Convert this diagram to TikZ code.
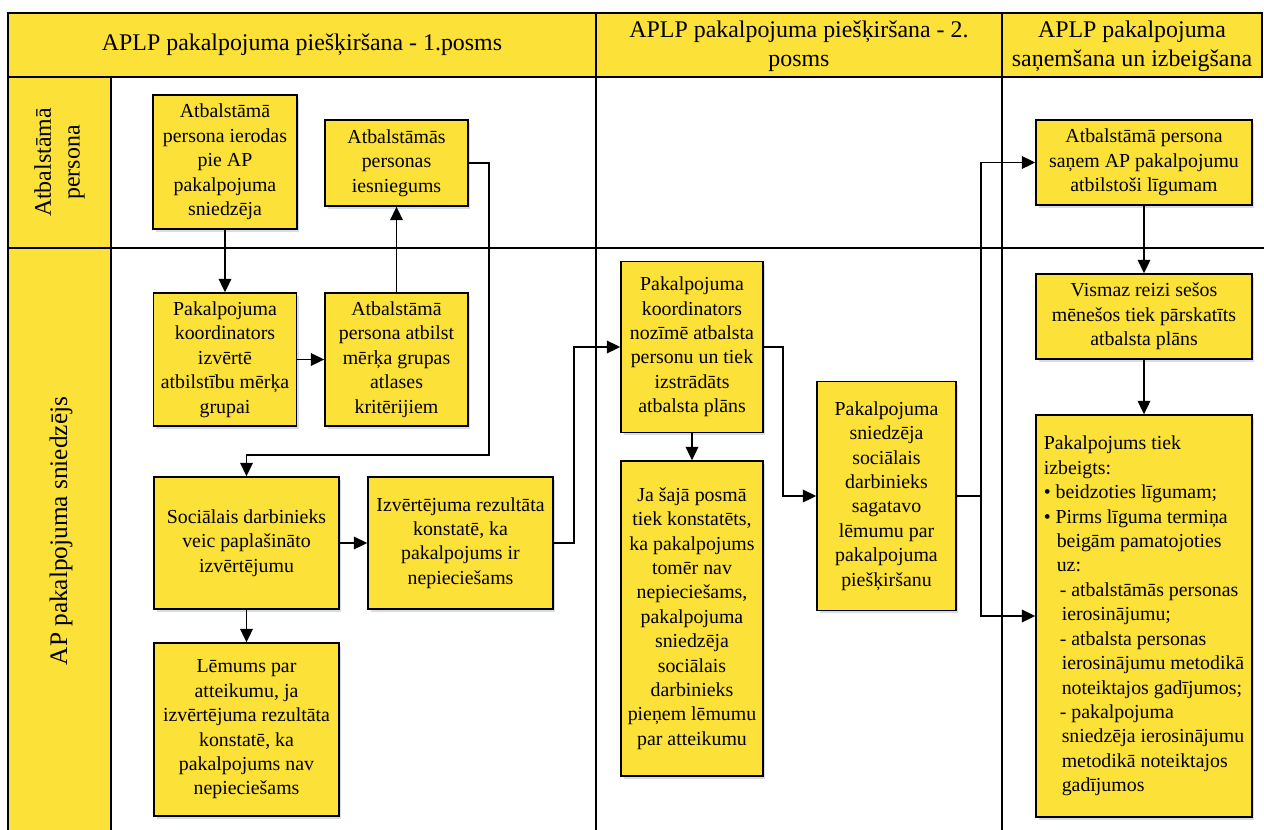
\documentclass[tikz,border=0pt]{standalone}
\usepackage{fontspec}
\setmainfont{Liberation Serif}
\usetikzlibrary{arrows.meta,shadows}
\definecolor{lpyellow}{RGB}{252,225,56}
\definecolor{lpshade}{RGB}{196,206,222}

\begin{document}
\begin{tikzpicture}[x=0.02cm, y=-0.02cm,
    every node/.style={font=\fontsize{11.3}{13.9}\selectfont},
    box/.style={draw, line width=0.8pt, fill=lpyellow, align=center, inner sep=1pt,
        drop shadow={shadow xshift=0.05cm, shadow yshift=-0.06cm, fill=lpshade, opacity=0.7}},
    head/.style={font=\fontsize{13.6}{16.4}\selectfont, align=center},
    link/.style={line width=1.1pt, -{Triangle[length=0.27cm, width=0.25cm]}}]
    \useasboundingbox (0,0) rectangle (1264,829);
    \clip (0,0) rectangle (1264,829);
    % frame of the lanes
    \draw[fill=lpyellow, line width=0.8pt] (8,13) rectangle (596,77);
    \draw[fill=lpyellow, line width=0.8pt] (596,13) rectangle (1002,77);
    \draw[fill=lpyellow, line width=0.8pt] (1002,13) rectangle (1262,77);
    \draw[fill=lpyellow, line width=0.8pt] (8,77) rectangle (111,248);
    \draw[fill=lpyellow, line width=0.8pt] (8,248) rectangle (111,860);
    \draw[line width=0.8pt] (111,248) -- (1264,248);
    \draw[line width=0.8pt] (596,77) -- (596,860);
    \draw[line width=0.8pt] (1002,77) -- (1002,860);
    \node[head] (colone) at (302,45) {APLP pakalpojuma piešķiršana - 1.posms};
    \node[head] (coltwo) at (799,46) {APLP pakalpojuma piešķiršana - 2.\\posms};
    \node[head] (colthree) at (1132,46) {APLP pakalpojuma\\saņemšana un izbeigšana};
    \node[head, rotate=90] (laneperson) at (59.5,162.5) {Atbalstāmā\\persona};
    \node[head, rotate=90, font=\fontsize{14.4}{17}\selectfont] (laneprovider) at (61,531) {AP pakalpojuma sniedzējs};
    % 1. posms
    \node[box, minimum width=2.88cm, minimum height=2.68cm] (ierodas) at (225,162)
        {Atbalstāmā\\persona ierodas\\pie AP\\pakalpojuma\\sniedzēja};
    \node[box, minimum width=2.86cm, minimum height=1.72cm] (iesniegums) at (396.5,163)
        {Atbalstāmās\\personas\\iesniegums};
    \node[box, minimum width=2.86cm, minimum height=2.66cm] (koordA) at (225,359.5)
        {Pakalpojuma\\koordinators\\izvērtē\\atbilstību mērķa\\grupai};
    \node[box, minimum width=2.86cm, minimum height=2.66cm] (atbilst) at (396.5,359.5)
        {Atbalstāmā\\persona atbilst\\mērķa grupas\\atlases\\kritērijiem};
    \node[box, minimum width=3.70cm, minimum height=2.64cm] (izvertejums) at (246.5,543)
        {Sociālais darbinieks\\veic paplašināto\\izvērtējumu};
    \node[box, minimum width=3.70cm, minimum height=2.64cm] (rezultats) at (460.5,543)
        {Izvērtējuma rezultāta\\konstatē, ka\\pakalpojums ir\\nepieciešams};
    \node[box, minimum width=3.70cm, minimum height=3.46cm] (atteikums) at (246.5,729.5)
        {Lēmums par\\atteikumu, ja\\izvērtējuma rezultāta\\konstatē, ka\\pakalpojums nav\\nepieciešams};
    % 2. posms
    \node[box, minimum width=2.84cm, minimum height=3.42cm] (koordB) at (692,347)
        {Pakalpojuma\\koordinators\\nozīmē atbalsta\\personu un tiek\\izstrādāts\\atbalsta plāns};
    \node[box, minimum width=2.84cm, minimum height=6.30cm] (nepieciesams) at (692,618.5)
        {Ja šajā posmā\\tiek konstatēts,\\ka pakalpojums\\tomēr nav\\nepieciešams,\\pakalpojuma\\sniedzēja\\sociālais\\darbinieks\\pieņem lēmumu\\par atteikumu};
    \node[box, minimum width=2.78cm, minimum height=4.58cm] (lemums) at (886.5,496)
        {Pakalpojuma\\sniedzēja\\sociālais\\darbinieks\\sagatavo\\lēmumu par\\pakalpojuma\\piešķiršanu};
    % sanemsana un izbeigsana
    \node[box, minimum width=4.32cm, minimum height=1.70cm] (sanem) at (1144,162.5)
        {Atbalstāmā persona\\saņem AP pakalpojumu\\atbilstoši līgumam};
    \node[box, minimum width=4.32cm, minimum height=1.70cm] (parskata) at (1144,316.5)
        {Vismaz reizi sešos\\mēnešos tiek pārskatīts\\atbalsta plāns};
    \node[box, align=left, minimum width=4.32cm, minimum height=8.04cm] (izbeigts) at (1144,616)
        {Pakalpojums tiek\\izbeigts:\\• beidzoties līgumam;\\• Pirms līguma termiņa\\
        \hspace*{0.26cm}beigām pamatojoties\\\hspace*{0.26cm}uz:\\
        \hspace*{0.32cm}- atbalstāmās personas\\\hspace*{0.36cm}ierosinājumu;\\
        \hspace*{0.32cm}- atbalsta personas\\\hspace*{0.36cm}ierosinājumu metodikā\\
        \hspace*{0.36cm}noteiktajos gadījumos;\\\hspace*{0.32cm}- pakalpojuma\\
        \hspace*{0.36cm}sniedzēja ierosinājumu\\\hspace*{0.36cm}metodikā noteiktajos\\
        \hspace*{0.36cm}gadījumos};
    % connectors
    \coordinate (turnA) at (489,455);
    \coordinate (turnB) at (574,347);
    \coordinate (turnC) at (783,496);
    \draw[link] (ierodas) -- (koordA);
    \draw[link] (koordA) -- (atbilst);
    \draw[link] (atbilst) -- (iesniegums);
    \draw[link] (iesniegums.east) -| (turnA) -| (izvertejums.north);
    \draw[link] (izvertejums) -- (rezultats);
    \draw[link] (izvertejums) -- (atteikums);
    \draw[link] (rezultats.east) -| (turnB) -- (koordB.west);
    \draw[link] (koordB) -- (nepieciesams);
    \draw[link] (koordB.east) -| (turnC) -- (lemums.west);
    \draw[link] (lemums.east) -- ++(24,0) |- (sanem.west);
    \draw[link] (lemums.east) -- ++(24,0) |- (izbeigts.west);
    \draw[link] (sanem) -- (parskata);
    \draw[link] (parskata) -- (izbeigts);
\end{tikzpicture}
\end{document}
